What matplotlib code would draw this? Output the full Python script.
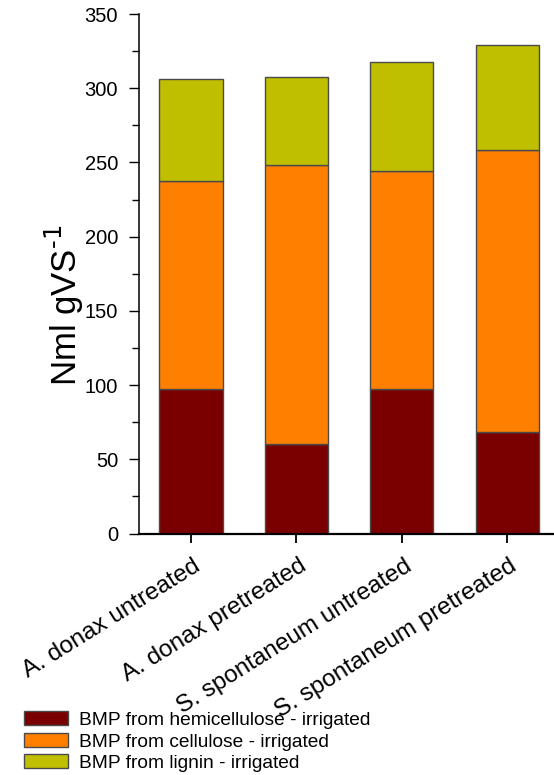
import matplotlib
matplotlib.use("Agg")
import matplotlib.pyplot as plt
import matplotlib.transforms as mtransforms
from matplotlib.ticker import MultipleLocator
import numpy as np

plt.rcParams['font.family'] = ['Liberation Sans', 'DejaVu Sans']

samples = ['A. donax untreated', 'A. donax pretreated',
           'S. spontaneum untreated', 'S. spontaneum pretreated']
hemicellulose = [97.5, 60.0, 97.5, 68.5]
cellulose = [140.0, 188.0, 146.5, 190.0]
lignin = [68.5, 59.5, 73.5, 70.5]

labels = ['BMP from hemicellulose - irrigated',
          'BMP from cellulose - irrigated',
          'BMP from lignin - irrigated']
colors = ['#7a0000', '#ff8000', '#bfbf00']

fig = plt.figure(figsize=(5.54, 7.75), dpi=100)
ax = fig.add_axes([0.2509, 0.3116, 0.7597, 0.6703])

x = np.arange(len(samples))
bottom = np.zeros(len(samples))
for vals, lab, col in zip([hemicellulose, cellulose, lignin], labels, colors):
    ax.bar(x, vals, 0.6, bottom=bottom, color=col, edgecolor='#4a4a4a',
           linewidth=1.0, label=lab)
    bottom += np.array(vals)

ax.set_xlim(-0.493, 3.5)
ax.set_ylim(0, 350)
ax.yaxis.set_major_locator(MultipleLocator(50))
ax.yaxis.set_minor_locator(MultipleLocator(25))

ax.spines['top'].set_visible(False)
ax.spines['right'].set_visible(False)
ax.spines['left'].set_linewidth(1.1)
ax.spines['bottom'].set_linewidth(1.6)

ax.tick_params(axis='y', which='major', length=7, width=1.0, pad=8,
               labelsize=14.5, direction='out')
ax.tick_params(axis='y', which='minor', length=5, width=1.0, direction='out')
ax.tick_params(axis='x', which='major', length=6.5, width=1.3, pad=9,
               labelsize=17.5, direction='out')

ax.set_xticks(x)
ax.set_xticklabels(samples, rotation=32, ha='right', va='top',
                   rotation_mode='anchor')
shift = mtransforms.ScaledTranslation(2 / 100, 0, fig.dpi_scale_trans)
for t in ax.get_xticklabels():
    t.set_transform(t.get_transform() + shift)

ax.set_ylabel(r'Nml gVS$^{\text{-1}}$', fontsize=25)
ax.yaxis.set_label_coords(-0.125, 0.44)

handles, labs = ax.get_legend_handles_labels()
fig.legend(handles, labs, loc='upper left', bbox_to_anchor=(0.03, 0.092),
           frameon=False, fontsize=13.8, handlelength=2.3, handleheight=0.75,
           handletextpad=0.55, labelspacing=0.2, borderaxespad=0)

fig.savefig('out.png', dpi=100)
